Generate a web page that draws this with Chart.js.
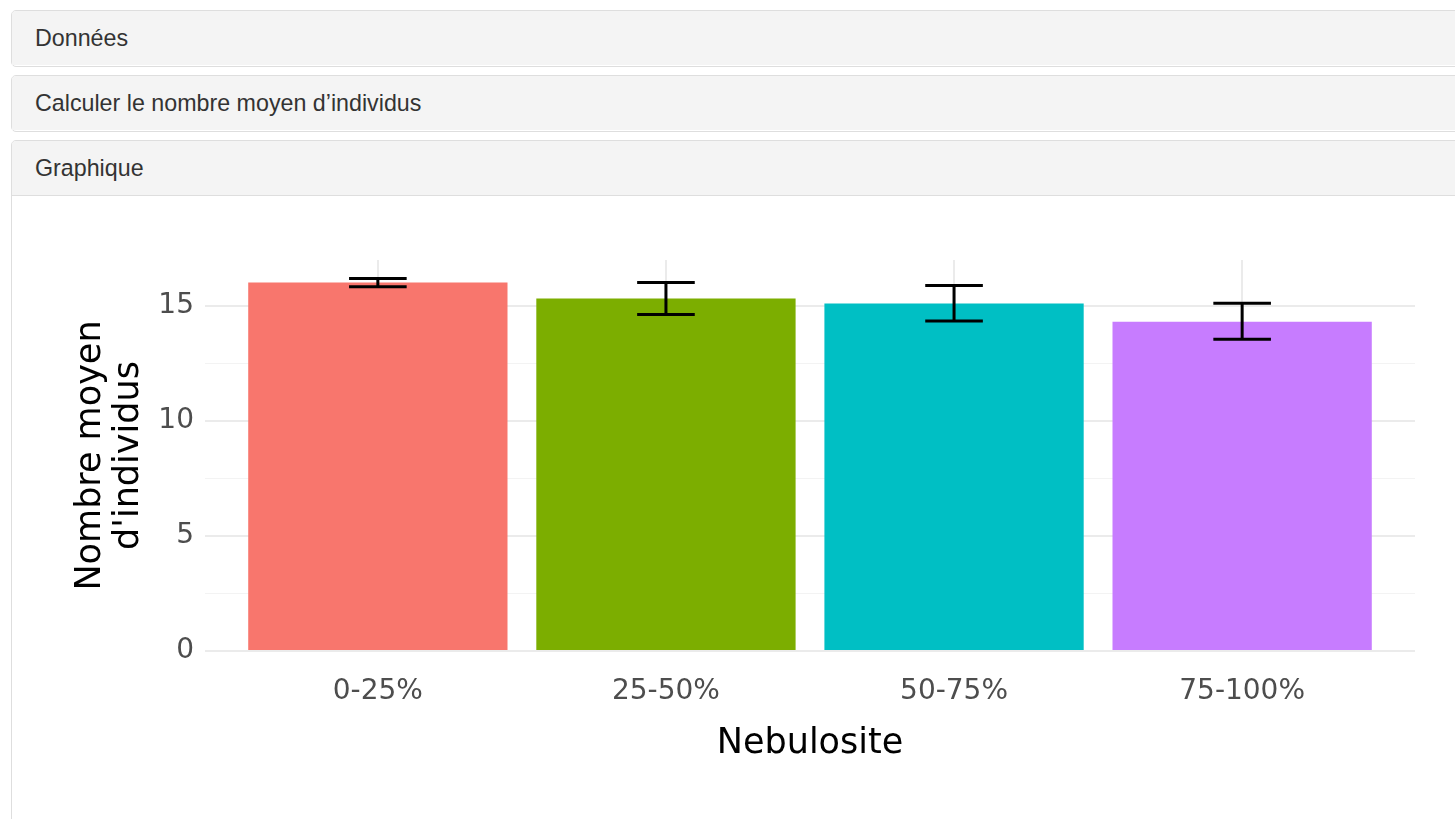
<!DOCTYPE html>
<html lang="fr">
<head>
<meta charset="utf-8">
<title>Graphique</title>
<script src="https://cdn.jsdelivr.net/npm/chart.js@4/dist/chart.umd.min.js"></script>
<style>
  html, body { margin: 0; padding: 0; background: #fff; overflow: hidden; }
  body { width: 1455px; height: 819px; position: relative; font-family: "Liberation Sans", Arial, sans-serif; }

  /* accordion panels */
  .panel {
    position: absolute; left: 11px; width: 1470px;
    box-sizing: border-box;
    border: 1px solid #dedede; border-radius: 5px;
    background: #fff;
  }
  .panel-head {
    box-sizing: border-box; height: 54px;
    background: #f4f4f4; color: #333;
    font-size: 23.25px; line-height: 54px;
    padding-left: 23px;
    border-radius: 4px 4px 0 0;
  }
  .panel.open .panel-head { border-bottom: 1px solid #dedede; height: 55px; }
  #p1 { top: 10px; height: 57px; }
  #p2 { top: 75px; height: 57px; }
  #p3 { top: 140px; height: 720px; }
  #chartBox { position: absolute; left: 12px; top: 197px; width: 1443px; height: 622px; }
</style>
</head>
<body>

<div class="panel" id="p1"><div class="panel-head">Données</div></div>
<div class="panel" id="p2"><div class="panel-head">Calculer le nombre moyen d’individus</div></div>
<div class="panel open" id="p3"><div class="panel-head">Graphique</div></div>

<div id="chartBox"><canvas id="chart"></canvas></div>

<script>
'use strict';

/* ─────────────────────────────────────────────
   DATA
───────────────────────────────────────────── */
const categories = ['0-25%', '25-50%', '50-75%', '75-100%'];
const means      = [16.02, 15.33, 15.11, 14.32];
const lowerErr   = [15.84, 14.63, 14.35, 13.55];
const upperErr   = [16.20, 16.02, 15.89, 15.12];
const yTicks     = [0, 5, 10, 15];
const yMinor     = [2.5, 7.5, 12.5];
const barColors  = ['#F8766D', '#7CAE00', '#00BFC4', '#C77CFF'];

const xPos = categories.map((_, i) => i + 1);

/* ─────────────────────────────────────────────
   ERROR BARS (drawn through the chart scales)
───────────────────────────────────────────── */
const errorBars = {
  id: 'errorBars',
  afterDatasetsDraw(chart) {
    const { ctx, scales: { x, y } } = chart;
    const half = (x.getPixelForValue(1.1) - x.getPixelForValue(1));
    ctx.save();
    ctx.strokeStyle = '#000';
    ctx.lineWidth = 3;
    ctx.lineCap = 'butt';
    xPos.forEach((v, i) => {
      const px = x.getPixelForValue(v);
      const hi = y.getPixelForValue(upperErr[i]);
      const lo = y.getPixelForValue(lowerErr[i]);
      ctx.beginPath();
      ctx.moveTo(px, hi); ctx.lineTo(px, lo);
      ctx.moveTo(px - half, hi); ctx.lineTo(px + half, hi);
      ctx.moveTo(px - half, lo); ctx.lineTo(px + half, lo);
      ctx.stroke();
    });
    ctx.restore();
  }
};

/* ─────────────────────────────────────────────
   CHART
───────────────────────────────────────────── */
const tickFont  = { family: 'DejaVu Sans', size: 28 };
const titleFont = { family: 'DejaVu Sans', size: 35, lineHeight: 1.08 };

new Chart(document.getElementById('chart'), {
  type: 'bar',
  data: {
    datasets: [{
      data: xPos.map((v, i) => ({ x: v, y: means[i] })),
      backgroundColor: barColors,
      borderWidth: 0,
      barPercentage: 0.9,
      categoryPercentage: 1
    }]
  },
  options: {
    responsive: true,
    maintainAspectRatio: false,
    animation: false,
    layout: { padding: { left: 0, right: 40, top: 63, bottom: 0 } },
    plugins: { legend: { display: false }, tooltip: { enabled: false } },
    scales: {
      x: {
        type: 'linear',
        min: 0.4, max: 4.6,
        offset: false,
        afterBuildTicks: s => { s.ticks = xPos.map(v => ({ value: v })); },
        afterFit: s => { s.height = 168; },
        border: { display: false },
        grid: { color: '#ebebeb', lineWidth: 2, drawTicks: false, offset: false },
        ticks: {
          color: '#4d4d4d', font: tickFont, padding: 24,
          autoSkip: false, maxRotation: 0,
          callback: v => categories[v - 1] ?? ''
        },
        title: {
          display: true, text: 'Nebulosite', color: '#000',
          font: { family: 'DejaVu Sans', size: 35 },
          padding: { top: 0, bottom: 54 }
        }
      },
      y: {
        min: 0, max: 17,
        afterBuildTicks: s => {
          s.ticks = [...yTicks, ...yMinor].sort((a, b) => a - b).map(v => ({ value: v }));
        },
        afterFit: s => { s.width = 193; },
        border: { display: false },
        grid: {
          drawTicks: false,
          color: c => yMinor.includes(c.tick.value) ? '#f3f3f3' : '#ebebeb',
          lineWidth: c => yMinor.includes(c.tick.value) ? 1 : 2
        },
        ticks: {
          color: '#4d4d4d', font: tickFont, padding: 11,
          callback: v => yTicks.includes(v) ? String(v) : ''
        },
        title: {
          display: true, text: ['Nombre moyen', "d'individus"], color: '#000',
          font: titleFont,
          padding: { top: 60, bottom: 0 }
        }
      }
    }
  },
  plugins: [errorBars]
});
</script>
</body>
</html>
